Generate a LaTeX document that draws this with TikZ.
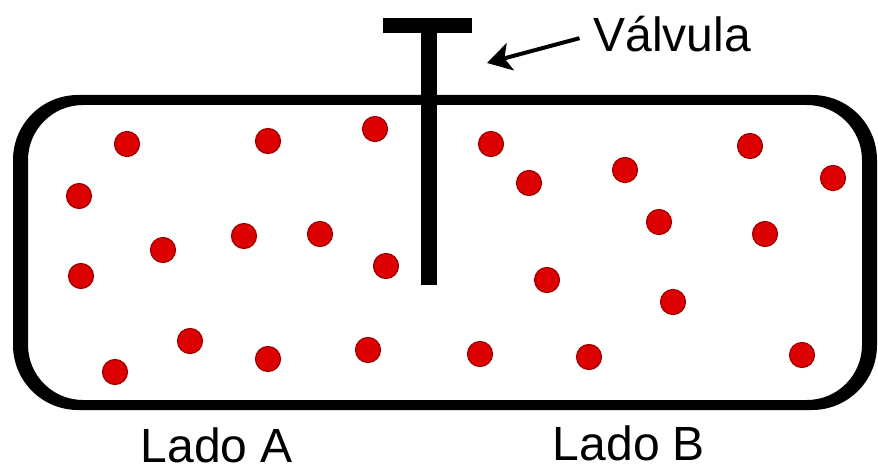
\documentclass[tikz,border=0pt]{standalone}
\usepackage{fontspec}
\setmainfont{Liberation Sans}
\usepackage{tikz}
\usetikzlibrary{
  positioning,
  arrows.meta
}
\definecolor{molred}{RGB}{220,0,0}
\definecolor{molrim}{RGB}{160,0,0}
\tikzset{
  molecula/.style={fill=molred, draw=molrim, line width=0.6pt},
  rotulo/.style={font=\fontsize{24pt}{28pt}\selectfont, inner sep=0pt},
  seta/.style={-{Stealth[length=12pt,width=14pt,inset=3pt]}, line width=2pt}
}

\begin{document}
\begin{tikzpicture}[x=0.5pt, y=-0.5pt]
  \useasboundingbox (0,0) rectangle (878,465);
  % recipiente (parede grossa)
  \fill[black, even odd rule]
    [rounded corners=32.5pt] (13,95) rectangle (877,410)
    [rounded corners=27.5pt] (28,105) rectangle (862,400);
  % valvula
  \fill[black] (383,18) rectangle (472,33);
  \fill[black] (421,18) rectangle (437,285);
  % moleculas
  \foreach \px/\py in {127/144, 268/141, 375/129, 79/196, 163/250, 244/236,
                       320/234, 386/266, 81/276, 190/341, 115/372, 268/359,
                       368/350, 491/144, 529/183, 625/170, 750/146, 833/178,
                       659/222, 765/234, 547/280, 673/302, 480/354, 589/357,
                       802/355}
    \filldraw[molecula] (\px,\py) circle (6.25pt);
  % rotulos
  \node[rotulo, anchor=base west] (valv) at (593,52) {Válvula};
  \coordinate (valvtip) at (487,63);
  \draw[seta, shorten <=7pt] (valv.west) -- (valvtip);
  \node[rotulo, anchor=base] (ladoA) at (217,462) {Lado A};
  \node[rotulo, anchor=base] (ladoB) at (629,460) {Lado B};
\end{tikzpicture}
\end{document}
